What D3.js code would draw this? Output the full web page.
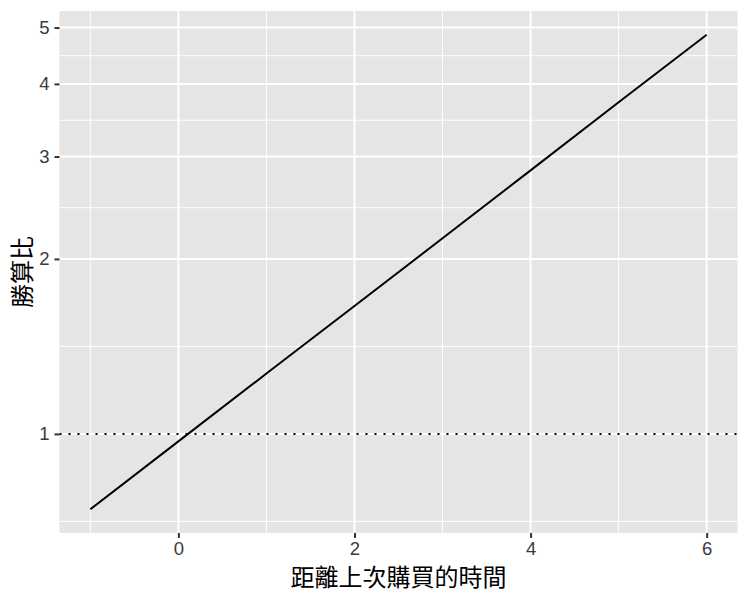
<!DOCTYPE html>
<html>
<head>
<meta charset="utf-8">
<script src="https://cdn.jsdelivr.net/npm/d3@7"></script>
<style>
body { margin: 0; background: #fff; }
text { font-family: "Noto Sans CJK TC", "Liberation Sans", Arial, sans-serif; }
</style>
</head>
<body>
<script>
// odds ratio by time since last purchase
var timeVals = [-1, 0, 1, 2, 3, 4, 5, 6];
var oddsVals = [0.742, 0.971, 1.27, 1.66, 2.17, 2.84, 3.72, 4.86];
var xTicks = [0, 2, 4, 6];
var xMinor = [-1, 1, 3, 5];
var yTicks = [1, 2, 3, 4, 5];
var yMinor = [Math.SQRT1_2, Math.SQRT2, Math.sqrt(6), Math.sqrt(12), Math.sqrt(20)];
var refLine = 1;

var width = 750, height = 600;
var panel = { left: 59.5, right: 737.5, top: 11, bottom: 533 };

var svg = d3.select("body").append("svg")
  .attr("width", width)
  .attr("height", height);

// ggplot style 5% expansion
var xExt = d3.extent(timeVals);
var xPad = (xExt[1] - xExt[0]) * 0.05;
var x = d3.scaleLinear()
  .domain([xExt[0] - xPad, xExt[1] + xPad])
  .range([panel.left, panel.right]);

var lyExt = d3.extent(oddsVals).map(Math.log);
var lyPad = (lyExt[1] - lyExt[0]) * 0.05;
var y = d3.scaleLog()
  .domain([Math.exp(lyExt[0] - lyPad), Math.exp(lyExt[1] + lyPad)])
  .range([panel.bottom, panel.top]);

svg.append("rect")
  .attr("x", panel.left).attr("y", panel.top)
  .attr("width", panel.right - panel.left)
  .attr("height", panel.bottom - panel.top)
  .attr("fill", "#e5e5e5");

var grid = svg.append("g");
grid.selectAll(".ymin").data(yMinor).enter().append("line")
  .attr("x1", panel.left).attr("x2", panel.right)
  .attr("y1", d => y(d)).attr("y2", d => y(d))
  .attr("stroke", "#fff").attr("stroke-width", 1);
grid.selectAll(".xmin").data(xMinor).enter().append("line")
  .attr("y1", panel.top).attr("y2", panel.bottom)
  .attr("x1", d => x(d)).attr("x2", d => x(d))
  .attr("stroke", "#fff").attr("stroke-width", 1);
grid.selectAll(".ymaj").data(yTicks).enter().append("line")
  .attr("x1", panel.left).attr("x2", panel.right)
  .attr("y1", d => y(d)).attr("y2", d => y(d))
  .attr("stroke", "#fff").attr("stroke-width", 2);
grid.selectAll(".xmaj").data(xTicks).enter().append("line")
  .attr("y1", panel.top).attr("y2", panel.bottom)
  .attr("x1", d => x(d)).attr("x2", d => x(d))
  .attr("stroke", "#fff").attr("stroke-width", 2);

// reference line at odds ratio 1
svg.append("line")
  .attr("x1", panel.left).attr("x2", panel.right)
  .attr("y1", y(refLine)).attr("y2", y(refLine))
  .attr("stroke", "#000").attr("stroke-width", 2)
  .attr("stroke-dasharray", "2 7");

var pts = timeVals.map((t, i) => [t, oddsVals[i]]);
svg.append("path")
  .datum(pts)
  .attr("fill", "none")
  .attr("stroke", "#000")
  .attr("stroke-width", 2)
  .attr("d", d3.line().x(d => x(d[0])).y(d => y(d[1])));

// axes
var xAxis = svg.append("g")
  .attr("transform", "translate(0," + panel.bottom + ")")
  .call(d3.axisBottom(x).tickValues(xTicks).tickSize(5).tickPadding(4).tickFormat(d3.format("d")));
var yAxis = svg.append("g")
  .attr("transform", "translate(" + panel.left + ",0)")
  .call(d3.axisLeft(y).tickValues(yTicks).tickSize(5).tickPadding(5).tickFormat(d3.format("d")));
[xAxis, yAxis].forEach(function(a) {
  a.select(".domain").remove();
  a.selectAll(".tick line").attr("stroke", "#333").attr("stroke-width", 2);
  a.selectAll(".tick text").attr("fill", "#3a3a3a")
    .style("font-size", "18.5px").style("font-family", "Liberation Sans, Arial, sans-serif");
});

svg.append("text")
  .attr("x", (panel.left + panel.right) / 2)
  .attr("y", 586)
  .attr("text-anchor", "middle")
  .attr("fill", "#000")
  .style("font-size", "24px")
  .text("距離上次購買的時間");

svg.append("text")
  .attr("transform", "translate(31," + (panel.top + panel.bottom) / 2 + ") rotate(-90)")
  .attr("text-anchor", "middle")
  .attr("fill", "#000")
  .style("font-size", "24px")
  .text("勝算比");
</script>
</body>
</html>
